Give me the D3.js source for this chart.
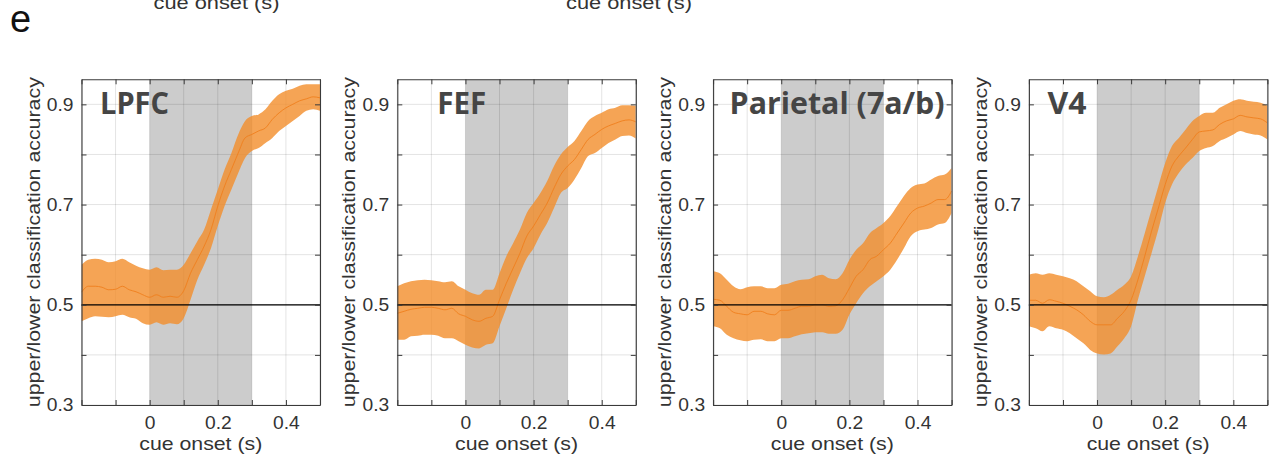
<!DOCTYPE html>
<html>
<head>
<meta charset="utf-8">
<script src="https://cdn.jsdelivr.net/npm/d3@7"></script>
<style>
  body { margin: 0; background: #fff; }
  svg { display: block; }
</style>
</head>
<body>
<svg id="chart" width="1273" height="460"></svg>
<script>
// ---- data ----
const times = [-0.20, -0.18, -0.16, -0.14, -0.12, -0.10, -0.08, -0.06, -0.04, -0.02,
                0.00,  0.02,  0.04,  0.06,  0.08,  0.10,  0.12,  0.14,  0.16,  0.18,
                0.20,  0.22,  0.24,  0.26,  0.28,  0.30,  0.32,  0.34,  0.36,  0.38,
                0.40,  0.42,  0.44,  0.46,  0.48,  0.50];

const regions = ["LPFC", "FEF", "Parietal (7a/b)", "V4"];

const lpfcMean  = [.525,.537,.537,.535,.530,.531,.537,.530,.526,.520,.515,.520,.515,.517,.515,.528,.563,.590,.617,.650,
                   .697,.737,.770,.803,.833,.840,.847,.853,.870,.883,.893,.900,.907,.911,.915,.913];
const lpfcUpper = [.580,.590,.592,.590,.585,.587,.592,.585,.578,.573,.570,.575,.569,.570,.570,.580,.603,.627,.650,.690,
                   .730,.770,.803,.840,.867,.877,.880,.890,.907,.920,.927,.931,.937,.940,.940,.940];
const lpfcLower = [.467,.473,.477,.476,.475,.477,.480,.475,.472,.463,.460,.465,.460,.463,.461,.473,.510,.550,.580,.613,
                   .657,.697,.730,.763,.793,.807,.813,.823,.833,.847,.857,.867,.877,.887,.890,.887];

const fefMean  = [.483,.487,.491,.493,.495,.495,.493,.490,.493,.482,.477,.470,.467,.473,.477,.510,.543,.573,.603,.637,
                  .657,.680,.703,.733,.760,.777,.790,.810,.830,.840,.850,.857,.862,.867,.869,.865];
const fefUpper = [.537,.543,.547,.549,.550,.549,.547,.545,.547,.537,.530,.523,.520,.530,.530,.563,.597,.623,.650,.683,
                  .703,.723,.747,.777,.800,.815,.827,.847,.867,.877,.883,.890,.893,.898,.898,.897];
const fefLower = [.430,.430,.437,.438,.440,.440,.438,.433,.433,.427,.420,.415,.413,.420,.423,.457,.493,.530,.563,.593,
                  .613,.640,.663,.693,.723,.733,.750,.773,.797,.803,.813,.823,.830,.837,.838,.832];

const parMean  = [.511,.509,.497,.485,.482,.480,.487,.487,.482,.480,.489,.489,.493,.497,.497,.500,.500,.497,.498,.510,
                  .533,.557,.570,.590,.597,.610,.623,.643,.663,.683,.693,.697,.703,.710,.710,.727];
const parUpper = [.567,.563,.550,.537,.531,.535,.537,.537,.533,.533,.540,.542,.547,.550,.551,.557,.560,.553,.551,.563,
                  .590,.610,.623,.643,.653,.663,.677,.697,.717,.733,.740,.742,.750,.757,.760,.773];
const parLower = [.457,.453,.440,.433,.429,.427,.430,.431,.427,.427,.433,.433,.437,.441,.443,.445,.445,.442,.442,.450,
                  .480,.503,.523,.537,.547,.557,.570,.590,.613,.637,.647,.650,.653,.660,.663,.683];

const v4Mean  = [.509,.509,.503,.510,.507,.503,.497,.490,.480,.467,.460,.460,.460,.473,.487,.510,.550,.597,.647,.693,
                 .740,.777,.797,.813,.830,.845,.847,.849,.860,.867,.871,.878,.875,.873,.871,.863];
const v4Upper = [.560,.563,.560,.563,.560,.557,.553,.547,.537,.527,.517,.515,.520,.530,.540,.557,.597,.643,.690,.737,
                 .783,.817,.833,.850,.867,.877,.883,.883,.893,.900,.907,.910,.907,.905,.903,.897];
const v4Lower = [.457,.453,.447,.457,.453,.450,.443,.433,.423,.410,.403,.401,.403,.417,.433,.457,.510,.557,.603,.650,
                 .703,.740,.763,.780,.793,.807,.813,.817,.827,.833,.840,.847,.843,.840,.838,.830];

const xTicks = [-0.2, -0.1, 0, 0.1, 0.2, 0.3, 0.4, 0.5];
const xTickLabels = [0, 0.2, 0.4];
const yTicks = [0.3, 0.4, 0.5, 0.6, 0.7, 0.8, 0.9];
const yTickLabels = [0.3, 0.5, 0.7, 0.9];
const xDomain = [-0.2, 0.5];
const yDomain = [0.3, 0.95];
const cueWindow = [0, 0.3];
const chanceLevel = 0.5;

const series = [
  { name: regions[0], mean: lpfcMean, upper: lpfcUpper, lower: lpfcLower },
  { name: regions[1], mean: fefMean,  upper: fefUpper,  lower: fefLower },
  { name: regions[2], mean: parMean,  upper: parUpper,  lower: parLower },
  { name: regions[3], mean: v4Mean,   upper: v4Upper,   lower: v4Lower }
];

// ---- layout ----
const panelLeft0 = 81.5, panelStep = 315.8, panelW = 238.5;
const panelTop = 79.3, panelBottom = 405;
const titleDx = [18.5, 40, 16.5, 18.5];
const titleWidths = [69, 49, 215, 39];
const textColor = "#333333";
const axisColor = "#3a3a3a";
const sansFont = "'Liberation Sans', Arial, Helvetica, sans-serif";
const bandColor = "rgb(243,141,42)";

const svg = d3.select("#chart");

// stretch glyphs horizontally so the text matches the wide figure lettering
function widen(sel, k) {
  sel.each(function () {
    const w = this.getComputedTextLength();
    if (w > 0) d3.select(this).attr("textLength", w * k).attr("lengthAdjust", "spacingAndGlyphs");
  });
}

// panel letter
svg.append("text").attr("x", 10).attr("y", 31.5)
  .attr("font-family", sansFont).attr("font-size", 38).attr("fill", "#111")
  .text("e");

// x labels of the row above, running off the top edge
[216.5, 629].forEach(cx => {
  svg.append("text").attr("x", cx).attr("y", 9)
    .attr("text-anchor", "middle").attr("font-family", sansFont)
    .attr("font-size", 19).attr("fill", textColor)
    .text("cue onset (s)")
    .attr("textLength", 126).attr("lengthAdjust", "spacingAndGlyphs");
});

series.forEach((s, i) => {
  const left = panelLeft0 + i * panelStep;
  const right = left + panelW;
  const x = d3.scaleLinear().domain(xDomain).range([left, right]);
  const y = d3.scaleLinear().domain(yDomain).range([panelBottom, panelTop]);
  const h = panelBottom - panelTop;
  const g = svg.append("g");

  const clipId = "clip" + i;
  svg.append("clipPath").attr("id", clipId)
    .append("rect").attr("x", left).attr("y", panelTop).attr("width", panelW).attr("height", h);

  // cue period shading
  g.append("rect")
    .attr("x", x(cueWindow[0])).attr("y", panelTop)
    .attr("width", x(cueWindow[1]) - x(cueWindow[0])).attr("height", h)
    .attr("fill", "#cccccc");

  // grid
  const grid = g.append("g").attr("stroke", "rgba(0,0,0,0.11)").attr("stroke-width", 1);
  grid.selectAll("line.gx").data(xTicks).join("line")
    .attr("x1", d => x(d)).attr("x2", d => x(d)).attr("y1", panelTop).attr("y2", panelBottom);
  grid.selectAll("line.gy").data(yTicks).join("line")
    .attr("x1", left).attr("x2", right).attr("y1", d => y(d)).attr("y2", d => y(d));

  // error band and mean
  const band = d3.area()
    .x((d, k) => x(times[k]))
    .y0((d, k) => y(s.lower[k]))
    .y1((d, k) => y(s.upper[k]))
    .curve(d3.curveMonotoneX);
  const line = d3.line()
    .x((d, k) => x(times[k]))
    .y(d => y(d))
    .curve(d3.curveMonotoneX);
  const dataG = g.append("g").attr("clip-path", `url(#${clipId})`);
  dataG.append("path").datum(s.mean).attr("d", band)
    .attr("fill", bandColor).attr("fill-opacity", 0.8);
  dataG.append("path").datum(s.mean).attr("d", line)
    .attr("fill", "none").attr("stroke", "rgb(240,128,30)").attr("stroke-width", 1).attr("stroke-opacity", 0.9);

  // chance level
  g.append("line")
    .attr("x1", left).attr("x2", right)
    .attr("y1", y(chanceLevel)).attr("y2", y(chanceLevel))
    .attr("stroke", "#000").attr("stroke-width", 1.3);

  // axes (ticks inward on all four sides)
  const fmt = labels => d => labels.some(v => Math.abs(v - d) < 1e-9) ? d3.format("~g")(d) : "";
  const axB = g.append("g").attr("transform", `translate(0,${panelBottom})`)
    .call(d3.axisBottom(x).tickValues(xTicks).tickSizeInner(-5).tickSizeOuter(0).tickPadding(11).tickFormat(fmt(xTickLabels)));
  const axT = g.append("g").attr("transform", `translate(0,${panelTop})`)
    .call(d3.axisTop(x).tickValues(xTicks).tickSizeInner(-5).tickSizeOuter(0).tickFormat(""));
  const axL = g.append("g").attr("transform", `translate(${left},0)`)
    .call(d3.axisLeft(y).tickValues(yTicks).tickSizeInner(-5).tickSizeOuter(0).tickPadding(8).tickFormat(fmt(yTickLabels)));
  const axR = g.append("g").attr("transform", `translate(${right},0)`)
    .call(d3.axisRight(y).tickValues(yTicks).tickSizeInner(-5).tickSizeOuter(0).tickFormat(""));
  [axB, axT, axL, axR].forEach(a => {
    a.select(".domain").attr("stroke", axisColor).attr("stroke-width", 1.1);
    a.selectAll(".tick line").attr("stroke", axisColor);
    a.selectAll("text").attr("font-family", sansFont).attr("font-size", 18.5).attr("fill", textColor);
  });
  axB.selectAll("text").call(widen, 1.04);
  axL.selectAll("text").call(widen, 1.04);

  // axis titles
  g.append("text")
    .attr("x", (left + right) / 2).attr("y", 449.5)
    .attr("text-anchor", "middle").attr("font-family", sansFont)
    .attr("font-size", 19).attr("fill", textColor)
    .text("cue onset (s)")
    .attr("textLength", 123).attr("lengthAdjust", "spacingAndGlyphs");
  g.append("text")
    .attr("transform", `translate(${left - 42},${(panelTop + panelBottom) / 2}) rotate(-90)`)
    .attr("text-anchor", "middle").attr("font-family", sansFont)
    .attr("font-size", 19).attr("fill", textColor)
    .text("upper/lower classification accuracy")
    .attr("textLength", 330).attr("lengthAdjust", "spacingAndGlyphs");

  // region name
  g.append("text")
    .attr("x", left + titleDx[i]).attr("y", 113.5)
    .attr("font-family", "'Open Sans', 'Noto Sans', sans-serif").attr("font-weight", 700)
    .attr("font-size", 31).attr("fill", "#454545")
    .text(s.name)
    .attr("textLength", titleWidths[i]).attr("lengthAdjust", "spacingAndGlyphs");
});
</script>
</body>
</html>
